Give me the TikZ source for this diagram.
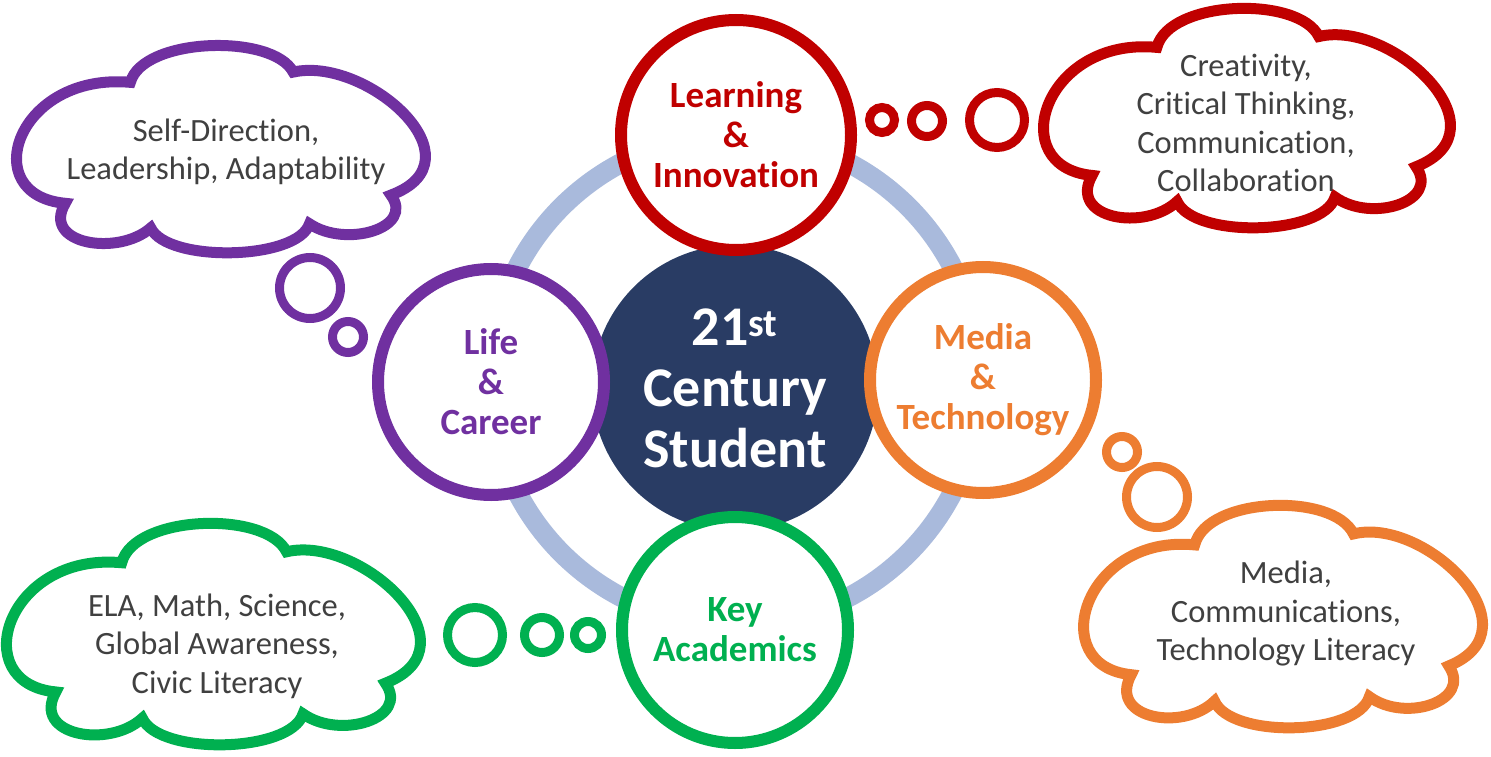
\documentclass[tikz,border=0pt]{standalone}
\usepackage{fontspec}
\setmainfont{Carlito}[Ligatures=CommonOff]
\definecolor{navy}{RGB}{41,60,100}
\definecolor{ringblue}{RGB}{169,186,220}
\definecolor{lnred}{RGB}{192,0,0}
\definecolor{lnpurple}{RGB}{112,48,160}
\definecolor{lnorange}{RGB}{237,125,49}
\definecolor{lngreen}{RGB}{0,176,80}
\definecolor{cloudtext}{RGB}{64,64,64}

% cloud outline in a 100 x 100 box, y pointing down
\newcommand\thoughtcloud[5]{%
  \begin{scope}[shift={(#2,#3)},xscale=#4,yscale=#5]
  \filldraw[draw=#1,fill=white,line width=11pt] (11,76)
    .. controls (-11,72) and (-1,12) .. (27,17)
    .. controls (30,-5) and (62,-7) .. (67,12)
    .. controls (85,4) and (114,55) .. (91,72)
    .. controls (97,88) and (80,98) .. (71,86)
    .. controls (68,104) and (36,105) .. (32,88)
    .. controls (24,102) and (5,96) .. (11,76) -- cycle;
  \end{scope}}

\begin{document}
\begin{tikzpicture}[x=1pt,y=-1pt,
  skill/.style={circle,draw=#1,line width=12pt,fill=white,minimum size=226pt,inner sep=0pt,
    text=#1,font=\fontsize{37}{40}\selectfont\bfseries,align=center},
  bubble/.style={circle,draw=#1,line width=9pt,fill=white,inner sep=0pt},
  thoughttext/.style={text=cloudtext,font=\fontsize{32.5}{38.5}\selectfont,align=center}]
\useasboundingbox (0,0) rectangle (1491,757);

\draw[ringblue,line width=20pt] (735,380) circle (245pt);
\node[circle,fill=navy,minimum size=286pt,text=white,align=center,
  font=\fontsize{56}{61}\selectfont\bfseries] (student) at (735,388)
  {21\textsuperscript{st}\\Century\\Student};

% the four skill areas
\node[skill=lnred,minimum size=230pt] (learn) at (736,135) {Learning\\\&\\Innovation};
\node[skill=lnpurple] (life) at (491,382) {Life\\\&\\Career};
\node[skill=lnorange] (media) at (983,380) {Media\\\&\\Technology};
\node[skill=lngreen] (key) at (735,630) {Key\\Academics};

% thought bubbles
\node[bubble=lnred,minimum size=25pt] (lb1) at (882,120) {};
\node[bubble=lnred,minimum size=31pt] (lb2) at (927,121) {};
\node[bubble=lnred,minimum size=55pt] (lb3) at (997,120) {};
\node[bubble=lnpurple,minimum size=61pt] (cb1) at (310,288) {};
\node[bubble=lnpurple,minimum size=31pt] (cb2) at (348,337) {};
\node[bubble=lnorange,minimum size=31pt] (mb1) at (1122,452) {};
\node[bubble=lnorange,minimum size=61pt] (mb2) at (1157,497) {};
\node[bubble=lngreen,minimum size=55pt] (kb1) at (475,635) {};
\node[bubble=lngreen,minimum size=35pt] (kb2) at (542,635) {};
\node[bubble=lngreen,minimum size=27pt] (kb3) at (588,635) {};

% clouds
\thoughtcloud{lnpurple}{20.5}{47.5}{4.07}{2.05}
\node[thoughttext] (lifetext) at (226,152) {Self-Direction,\\Leadership, Adaptability};
\thoughtcloud{lnred}{1047.5}{10.5}{4.05}{2.17}
\node[thoughttext] (learntext) at (1246,123) {Creativity,\\Critical Thinking,\\Communication,\\Collaboration};
\thoughtcloud{lngreen}{10.5}{525.5}{4.12}{2.19}
\node[thoughttext] (keytext) at (217,646) {ELA, Math, Science,\\Global Awareness,\\Civic Literacy};
\thoughtcloud{lnorange}{1087.5}{507.5}{3.97}{2.20}
\node[thoughttext] (mediatext) at (1286,614) {Media,\\Communications,\\Technology Literacy};
\end{tikzpicture}
\end{document}
